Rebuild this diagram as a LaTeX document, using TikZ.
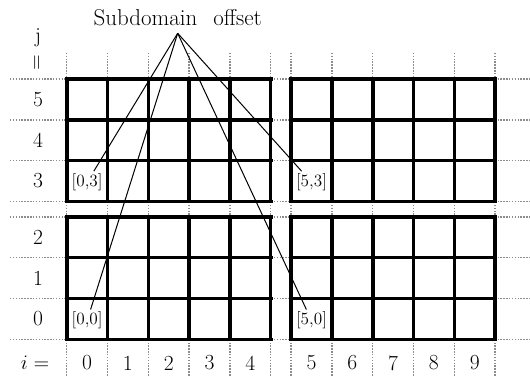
\documentclass[tikz,border=0pt]{standalone}
\usetikzlibrary{positioning}

\begin{document}
\begin{tikzpicture}[
    font=\fontsize{15}{17}\selectfont,
    blockgrid/.style={draw=black, line width=2.5pt, line cap=rect},
    guide/.style={draw=black!45, line width=1pt, dash pattern=on 1pt off 1pt},
    lead/.style={draw=black, line width=0.7pt},
    offs/.style={font=\fontsize{12}{14}\selectfont, inner sep=1.5pt},
  ]
  \def\G{5.5}\def\V{3.38}\def\L{-0.7}\def\B{-0.58}
  \useasboundingbox (-1.635,-0.9) rectangle (11.355,8.316);

  % dotted guides behind the blocks
  \foreach \y in {0,1,2,3,\V,\V+1,\V+2,\V+3}
    \draw[guide] (-1.39,\y) -- (11.355,\y);
  \foreach \x in {0,...,5,\G,\G+1,\G+2,\G+3,\G+4,\G+5}
    \draw[guide] (\x,7.02) -- (\x,-0.9);

  % four subdomains of 5x3 cells
  \foreach \sx/\sy in {0/0, \G/0, 0/\V, \G/\V}
    \draw[blockgrid, shift={(\sx,\sy)}] (0,0) grid (5,3);

  % index labels
  \foreach \j/\y in {0/0.5, 1/1.5, 2/2.5, 3/\V+0.5, 4/\V+1.5, 5/\V+2.5}
    \node (row\j) at (\L,\y) {\j};
  \node (jname) at (\L,7.38) {j};
  \node[rotate=90] (jeq) at (\L,6.77) {$=$};
  \node (iname) at (-0.775,\B) {$i =$};
  \foreach \i in {0,...,4} \node (col\i) at (\i+0.5,\B) {\i};
  \foreach \i in {5,...,9} \node (col\i) at (\i+1,\B) {\i};

  % offsets of the subdomains
  \node[font=\fontsize{16}{19}\selectfont, anchor=south, inner sep=5pt] (offset) at (2.72,7.5)
    {Subdomain\hspace{0.7em}offset};
  \node[offs] (l03) at (0.5,\V+0.47) {[0,3]};
  \node[offs] (l53) at (\G+0.5,\V+0.47) {[5,3]};
  \node[offs] (l00) at (0.5,0.46) {[0,0]};
  \node[offs] (l50) at (\G+0.5,0.46) {[5,0]};
  \foreach \t in {l03,l00,l53,l50} \draw[lead] (offset.south) -- (\t);
\end{tikzpicture}
\end{document}
